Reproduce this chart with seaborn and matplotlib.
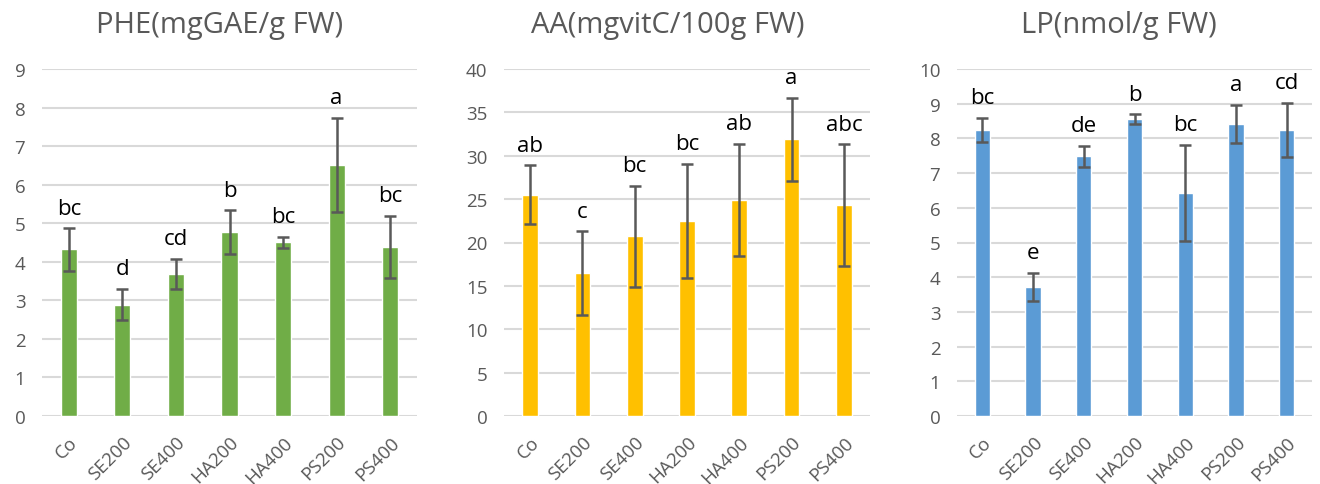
""" Phenolics, ascorbic acid and lipid peroxidation by treatment """

import matplotlib
matplotlib.use("Agg")
import matplotlib.pyplot as plt
import seaborn as sns
import pandas as pd

# Treatments
treatments = ["Co", "SE200", "SE400", "HA200", "HA400", "PS200", "PS400"]

# PHE (mgGAE/g FW)
phe_mean = [4.32, 2.89, 3.69, 4.76, 4.51, 6.52, 4.39]
phe_err = [0.55, 0.40, 0.39, 0.57, 0.14, 1.22, 0.81]
phe_letters = ["bc", "d", "cd", "b", "bc", "a", "bc"]

# AA (mgvitC/100g FW)
aa_mean = [25.5, 16.5, 20.7, 22.5, 24.9, 31.9, 24.3]
aa_err = [3.4, 4.8, 5.85, 6.6, 6.5, 4.8, 7.0]
aa_letters = ["ab", "c", "bc", "bc", "ab", "a", "abc"]

# LP (nmol/g FW)
lp_mean = [8.25, 3.71, 7.48, 8.55, 6.43, 8.42, 8.25]
lp_err = [0.34, 0.41, 0.30, 0.14, 1.39, 0.55, 0.78]
lp_letters = ["bc", "e", "de", "b", "bc", "a", "cd"]

sns.set_style("white")
plt.rcParams["font.family"] = ["Open Sans", "DejaVu Sans"]

panels = [
    ("PHE(mgGAE/g FW)", phe_mean, phe_err, phe_letters, "#70AD47", 9, 1),
    ("AA(mgvitC/100g FW)", aa_mean, aa_err, aa_letters, "#FFC000", 40, 5),
    ("LP(nmol/g FW)", lp_mean, lp_err, lp_letters, "#5B9BD5", 10, 1),
]
# axes boxes in pixels: left, right, title centre
boxes = [(42, 417, 220), (504, 870, 668), (957, 1312, 1119)]

W, H = 1320, 485
fig = plt.figure(figsize=(W / 100, H / 100), dpi=100)
grey = "#595959"

for (title, mean, err, letters, color, ymax, step), (x0, x1, tx) in zip(panels, boxes):
    ax = fig.add_axes([x0 / W, 68 / H, (x1 - x0) / W, 347 / H])
    df = pd.DataFrame({"treatment": treatments, "value": mean, "err": err})
    sns.barplot(data=df, x="treatment", y="value", color=color, width=0.3,
                saturation=1, ax=ax, zorder=2)
    ax.errorbar(range(len(treatments)), df["value"], yerr=df["err"], fmt="none",
                ecolor=grey, elinewidth=1.8, capsize=4, capthick=1.8, zorder=3)
    for i, lab in enumerate(letters):
        ax.annotate(lab, (i, mean[i] + err[i]), xytext=(0, 7), textcoords="offset points",
                    ha="center", va="bottom", fontsize=16, color="black")
    ax.set_ylim(0, ymax)
    ax.set_xlim(-0.5, len(treatments) - 0.5)
    ax.set_yticks(range(0, ymax + 1, step))
    ax.grid(axis="y", color="#d9d9d9", linewidth=1.5, zorder=0)
    ax.set_axisbelow(True)
    sns.despine(ax=ax, left=True, bottom=True, top=True, right=True)
    ax.tick_params(axis="both", length=0, colors=grey, labelsize=13.5)
    ax.tick_params(axis="y", pad=12)
    ax.tick_params(axis="x", pad=12)
    ax.set_xlabel("")
    ax.set_ylabel("")
    for t in ax.get_xticklabels():
        t.set_rotation(45)
        t.set_ha("right")
        t.set_rotation_mode("anchor")
    fig.text(tx / W, 1 - 25 / H, title, ha="center", va="center", fontsize=21, color=grey)

plt.savefig("out.png", dpi=100)
